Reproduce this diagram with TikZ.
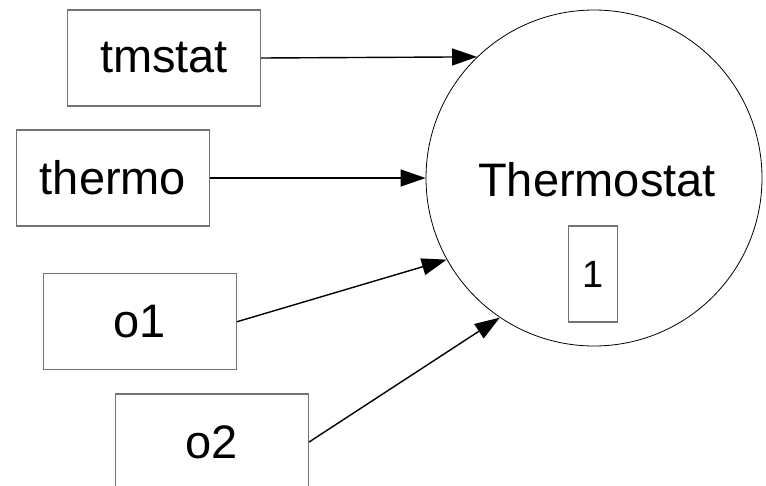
\documentclass[tikz,border=0pt]{standalone}
\usepackage{fontspec}
\setmainfont{Liberation Sans}
\usetikzlibrary{arrows.meta}
\begin{document}
\begin{tikzpicture}[x=1pt,y=-1pt,
  box/.style={draw=black!55, line width=1.2pt, minimum width=193pt, minimum height=96pt, inner sep=0pt, font=\fontsize{47}{56}\selectfont},
  conn/.style={line width=1.4pt, -{Triangle[length=25pt,width=17pt]}},
  ]
\useasboundingbox (0,0) rectangle (766,485);
\node[circle, draw, line width=0.8pt, minimum size=336pt, inner sep=0pt] (th) at (594,178) {};
\node[font=\fontsize{47}{56}\selectfont, inner sep=0pt] (lab) at (597,180) {Thermostat};
\node[draw=black!55, line width=1.2pt, minimum width=49pt, minimum height=96pt, inner sep=0pt, font=\fontsize{38}{45}\selectfont] (one) at (593,274) {1};
\node[box] (tm) at (164,58) {tmstat};
\node[box] (thermo) at (113,178) {thermo};
\node[box] (o1) at (140,321.7) {o1};
\node[box] (o2) at (212,442) {o2};
\draw[conn] (tm.east) -- (th.134.6);
\draw[conn] (thermo.east) -- (th.180);
\draw[conn] (o1.east) -- (th.209.7);
\draw[conn] (o2.east) -- (th.236.2);
\end{tikzpicture}
\end{document}
